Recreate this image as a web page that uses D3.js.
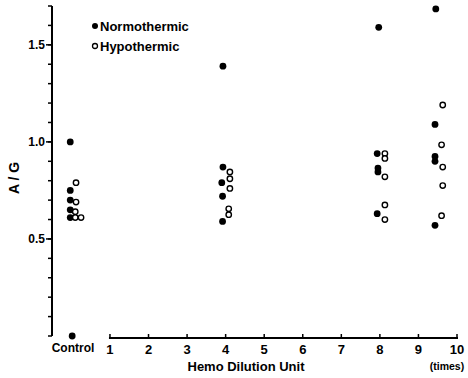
<!DOCTYPE html>
<html><head><meta charset="utf-8">
<script src="https://cdn.jsdelivr.net/npm/d3@7"></script>
<style>
html,body{margin:0;padding:0;background:#fff;}
text{font-family:"Liberation Sans",Arial,sans-serif;font-weight:bold;fill:#000;}
</style></head>
<body><svg id="c" width="468" height="378"></svg>
<script>
// Data (x in hemo dilution units, Control = 0; small offsets as plotted)
const normoX = [-0.03,-0.03,-0.03,-0.03,-0.03,0.02, 3.93,3.93,3.9,3.92,3.92, 7.97,7.93,7.95,7.95,7.93, 9.45,9.43,9.43,9.43,9.43];
const normoY = [1.00,0.75,0.70,0.65,0.61,0.00, 1.39,0.87,0.79,0.72,0.59, 1.59,0.94,0.865,0.845,0.63, 1.685,1.09,0.925,0.90,0.57];
const hypoX = [0.12,0.12,0.1,0.1,0.25, 4.11,4.11,4.11,4.08,4.08, 8.13,8.13,8.13,8.13,8.13, 9.63,9.6,9.63,9.63,9.6];
const hypoY = [0.79,0.69,0.64,0.61,0.61, 0.845,0.81,0.76,0.655,0.625, 0.94,0.915,0.82,0.675,0.60, 1.19,0.985,0.87,0.775,0.62];
const xTicks = [1,2,3,4,5,6,7,8,9,10];
const yMajor = [0.5,1.0,1.5];
const yMinor = [0,0.1,0.2,0.3,0.4,0.5,0.6,0.7,0.8,0.9,1.0,1.1,1.2,1.3,1.4,1.5,1.6,1.7];
const legend = ["Normothermic","Hypothermic"];

const svg = d3.select("#c");
const x = d3.scaleLinear().domain([0,10]).range([71.4,457]);
const y = d3.scaleLinear().domain([0,1.7]).range([336,6]);

// Y axis
const yAxisG = svg.append("g").attr("transform","translate(52,0)");
yAxisG.append("line").attr("x1",0).attr("x2",0).attr("y1",y(1.7)).attr("y2",y(0))
  .attr("stroke","#000").attr("stroke-width",2);
yAxisG.selectAll("line.mn").data(yMinor).join("line").attr("class","mn")
  .attr("x1",-4).attr("x2",0).attr("y1",d=>y(d)).attr("y2",d=>y(d))
  .attr("stroke","#000").attr("stroke-width",1.5);
yAxisG.selectAll("line.mj").data(yMajor).join("line").attr("class","mj")
  .attr("x1",-6).attr("x2",0).attr("y1",d=>y(d)).attr("y2",d=>y(d))
  .attr("stroke","#000").attr("stroke-width",1.5);
yAxisG.selectAll("text").data(yMajor).join("text")
  .attr("x",-7).attr("y",d=>y(d)).attr("dy","0.36em").attr("text-anchor","end")
  .style("font-size","12px").text(d=>d.toFixed(1));

// X axis
const xAxisG = svg.append("g").attr("transform","translate(0,338)");
xAxisG.append("line").attr("x1",x(1)-1).attr("x2",x(10)+1).attr("y1",0).attr("y2",0)
  .attr("stroke","#000").attr("stroke-width",2);
xAxisG.selectAll("line.t").data(xTicks).join("line").attr("class","t")
  .attr("x1",d=>x(d)).attr("x2",d=>x(d)).attr("y1",0).attr("y2",-4)
  .attr("stroke","#000").attr("stroke-width",1.5);
xAxisG.selectAll("text").data(xTicks).join("text")
  .attr("x",d=>x(d)).attr("y",16).attr("text-anchor","middle")
  .style("font-size","13px").text(d=>d);

svg.append("text").attr("x",73).attr("y",352).attr("text-anchor","middle")
  .style("font-size","12px").text("Control");
svg.append("text").attr("x",246).attr("y",371).attr("text-anchor","middle")
  .style("font-size","13px").text("Hemo Dilution Unit");
svg.append("text").attr("x",447).attr("y",370).attr("text-anchor","middle")
  .style("font-size","10.5px").text("(times)");
svg.append("text").attr("transform","translate(19,178) rotate(-90)").attr("text-anchor","middle")
  .style("font-size","14px").text("A / G");

// Points
const normo = normoX.map((d,i)=>({x:d,y:normoY[i]}));
const hypo = hypoX.map((d,i)=>({x:d,y:hypoY[i]}));
svg.append("g").selectAll("circle").data(normo).join("circle")
  .attr("cx",d=>x(d.x)).attr("cy",d=>y(d.y)).attr("r",3.4).attr("fill","#000");
svg.append("g").selectAll("circle").data(hypo).join("circle")
  .attr("cx",d=>x(d.x)).attr("cy",d=>y(d.y)).attr("r",2.7)
  .attr("fill","#fff").attr("stroke","#000").attr("stroke-width",1.4);

// Legend
const lg = svg.append("g");
lg.append("circle").attr("cx",95).attr("cy",26).attr("r",3).attr("fill","#000");
lg.append("circle").attr("cx",95).attr("cy",46).attr("r",2.5).attr("fill","#fff")
  .attr("stroke","#000").attr("stroke-width",1.3);
lg.selectAll("text").data(legend).join("text")
  .attr("x",100).attr("y",(d,i)=>26+i*20).attr("dy","0.36em")
  .style("font-size","13px").text(d=>d);
</script></body></html>
